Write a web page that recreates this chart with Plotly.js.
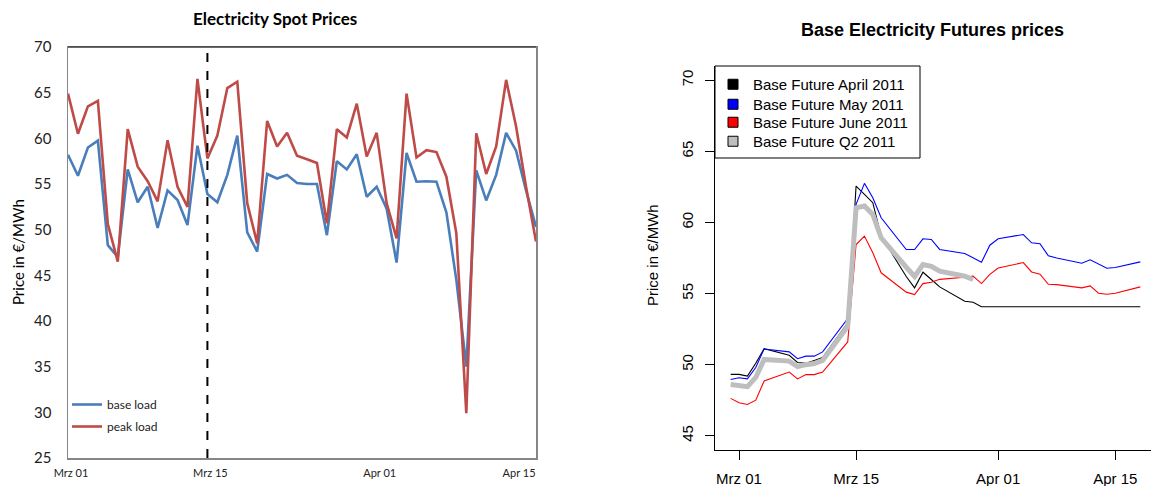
<!DOCTYPE html>
<html>
<head>
<meta charset="utf-8">
<script src="https://cdn.plot.ly/plotly-3.0.1.min.js"></script>
<style>html,body{margin:0;padding:0;background:#fff}#chart{width:1151px;height:486px}</style>
</head>
<body>
<div id="chart"></div>
<script>
// ---------- Left panel: Electricity spot prices (daily) ----------
const spotDates = [
  '2011-03-01','2011-03-02','2011-03-03','2011-03-04','2011-03-05','2011-03-06','2011-03-07','2011-03-08',
  '2011-03-09','2011-03-10','2011-03-11','2011-03-12','2011-03-13','2011-03-14','2011-03-15','2011-03-16',
  '2011-03-17','2011-03-18','2011-03-19','2011-03-20','2011-03-21','2011-03-22','2011-03-23','2011-03-24',
  '2011-03-25','2011-03-26','2011-03-27','2011-03-28','2011-03-29','2011-03-30','2011-03-31','2011-04-01',
  '2011-04-02','2011-04-03','2011-04-04','2011-04-05','2011-04-06','2011-04-07','2011-04-08','2011-04-09',
  '2011-04-10','2011-04-11','2011-04-12','2011-04-13','2011-04-14','2011-04-15','2011-04-16','2011-04-17'
];
const baseLoad = [
  58.2, 55.9, 59.0, 59.75, 48.3, 47.0, 56.6, 53.0,
  54.7, 50.2, 54.3, 53.25, 50.5, 59.2, 53.9, 53.0,
  56.0, 60.3, 49.7, 47.6, 56.1, 55.6, 56.0, 55.1,
  55.0, 55.0, 49.4, 57.5, 56.6, 58.25, 53.6, 54.7,
  52.3, 46.4, 58.4, 55.25, 55.3, 55.25, 51.9, 44.5,
  35.0, 56.5, 53.2, 56.0, 60.6, 58.65, 54.3, 50.3
];
const peakLoad = [
  64.9, 60.5, 63.5, 64.1, 50.6, 46.5, 61.0, 56.9,
  55.3, 53.1, 59.8, 54.7, 52.5, 66.5, 57.8, 60.3,
  65.5, 66.2, 52.9, 48.5, 61.9, 59.1, 60.6, 58.1,
  57.7, 57.3, 50.7, 61.0, 60.1, 63.8, 58.0, 60.6,
  52.9, 49.05, 64.9, 57.9, 58.7, 58.5, 55.8, 49.6,
  29.9, 60.55, 56.1, 59.1, 66.4, 61.3, 54.7, 48.7
];
const spotMarkerDate = '2011-03-15';
const spotTickVals = ['2011-03-01','2011-03-15','2011-04-01','2011-04-15'];
const spotTickText = ['Mrz 01','Mrz 15','Apr 01','Apr 15'];
const spotYTicks = [25,30,35,40,45,50,55,60,65,70];

// ---------- Right panel: Base electricity futures (trading days) ----------
const futDates = [
  '2011-02-28','2011-03-01','2011-03-02','2011-03-03','2011-03-04',
  '2011-03-07','2011-03-08','2011-03-09','2011-03-10','2011-03-11',
  '2011-03-14','2011-03-15','2011-03-16','2011-03-17','2011-03-18',
  '2011-03-21','2011-03-22','2011-03-23','2011-03-24','2011-03-25',
  '2011-03-28','2011-03-29','2011-03-30','2011-03-31','2011-04-01',
  '2011-04-04','2011-04-05','2011-04-06','2011-04-07','2011-04-08',
  '2011-04-11','2011-04-12','2011-04-13','2011-04-14','2011-04-15',
  '2011-04-18'
];
const futApril = [
  49.32, 49.32, 49.2, 50.1, 51.13,
  50.66, 50.15, 50.1, 50.3, 50.5,
  52.95, 62.56, 61.97, 61.39, 59.04,
  56.2, 55.4, 56.5, 55.99, 55.47,
  54.46, 54.39, 54.07, 54.07, 54.07,
  54.07, 54.07, 54.07, 54.07, 54.07,
  54.07, 54.07, 54.07, 54.07, 54.07,
  54.07
];
const futMay = [
  48.96, 49.08, 49.0, 49.8, 51.1,
  50.9, 50.42, 50.6, 50.6, 50.9,
  53.24, 61.27, 62.75, 61.74, 60.33,
  58.1, 58.1, 58.85, 58.8, 58.1,
  57.82, 57.5, 57.2, 58.4, 58.85,
  59.15, 58.57, 58.5, 57.65, 57.5,
  57.13, 57.37, 57.05, 56.78, 56.83,
  57.23
];
const futJune = [
  47.63, 47.32, 47.2, 47.5, 48.85,
  49.48, 49.0, 49.3, 49.3, 49.48,
  51.6, 58.45, 59.04, 57.87, 56.46,
  55.1, 54.93, 55.7, 55.8, 56.0,
  56.15, 56.22, 55.7, 56.35, 56.8,
  57.18, 56.52, 56.36, 55.65, 55.63,
  55.4, 55.54, 55.02, 54.95, 55.02,
  55.47
];
const futQ2 = [
  48.6, 48.55, 48.45, 49.1, 50.37,
  50.25, 49.86, 50.0, 50.08, 50.3,
  52.7, 61.03, 61.15, 60.56, 58.92,
  56.85, 56.2, 57.04, 56.92, 56.57,
  56.22, 55.99, null, null, null,
  null, null, null, null, null,
  null, null, null, null, null,
  null
];
const futNames = ['Base Future April 2011','Base Future May 2011','Base Future June 2011','Base Future Q2 2011'];
const futColors = ['#000000','#0000ff','#ff0000','#bebebe'];
const futTickVals = ['2011-03-01','2011-03-15','2011-04-01','2011-04-15'];
const futTickText = ['Mrz 01','Mrz 15','Apr 01','Apr 15'];
const futYTicks = [45,50,55,60,65,70];

// ---------- layout helpers (pixel -> paper) ----------
const W = 1151, H = 486;
const px = v => v / W;
const py = v => 1 - v / H;

const excelFont = 'Lato, "Open Sans", sans-serif';
const rFont = '"Liberation Sans", Arial, sans-serif';

const traces = [
  {x: spotDates, y: baseLoad, name: 'base load', type: 'scatter', mode: 'lines',
   line: {color: '#4a7ebb', width: 2.6}, xaxis: 'x', yaxis: 'y', legend: 'legend', legendgroup: 'a'},
  {x: spotDates, y: peakLoad, name: 'peak load', type: 'scatter', mode: 'lines',
   line: {color: '#be4b48', width: 2.6}, xaxis: 'x', yaxis: 'y', legend: 'legend', legendgroup: 'b'}
];
const futSeries = [futApril, futMay, futJune, futQ2];
futSeries.forEach((s, i) => {
  traces.push({x: futDates, y: s, name: futNames[i], type: 'scatter', mode: 'lines',
    line: {color: futColors[i], width: i === 3 ? 5 : 1.1}, connectgaps: false,
    xaxis: 'x2', yaxis: 'y2', showlegend: false});
});
// legend keys (filled boxes, R legend style), one legend per row
futSeries.forEach((s, i) => {
  traces.push({x: [null], y: [null], name: futNames[i], type: 'scatter', mode: 'markers',
    marker: {symbol: 'square', size: 10, color: futColors[i], line: {color: '#000', width: 1}},
    xaxis: 'x2', yaxis: 'y2', legend: 'legend' + (i + 2), hoverinfo: 'skip'});
});

const legendRowTops = [68, 88, 106, 125];

const layout = {
  width: W, height: H,
  margin: {l: 0, r: 0, t: 0, b: 0},
  paper_bgcolor: '#fff', plot_bgcolor: '#fff',
  showlegend: true,
  xaxis: {
    type: 'date', domain: [px(68), px(536)], anchor: 'y',
    range: [spotDates[0], spotDates[spotDates.length - 1]],
    showline: true, linecolor: '#868686', linewidth: 1.5, mirror: true,
    showgrid: false, zeroline: false, ticks: '',
    tickvals: spotTickVals, ticktext: spotTickText, ticklabelshift: 3,
    tickfont: {family: excelFont, size: 11, color: '#222'}, ticklabelstandoff: 4
  },
  yaxis: {
    domain: [py(458), py(47)], anchor: 'x', range: [25, 70],
    showline: true, linecolor: '#868686', linewidth: 1.5, mirror: true,
    showgrid: false, zeroline: false, ticks: '',
    tickvals: spotYTicks, ticktext: spotYTicks.map(String),
    tickfont: {family: excelFont, size: 15, color: '#222'}, ticklabelstandoff: 12
  },
  xaxis2: {
    type: 'date', domain: [px(715), 1], anchor: 'y2',
    range: ['2011-02-26 03:00', '2011-04-19 06:40'],
    showline: true, linecolor: '#000', linewidth: 1,
    showgrid: false, zeroline: false, ticks: 'outside', ticklen: 9, tickwidth: 1, tickcolor: '#000',
    tickvals: futTickVals, ticktext: futTickText,
    tickfont: {family: rFont, size: 15, color: '#000'}, ticklabelstandoff: 6
  },
  yaxis2: {
    domain: [py(450), py(66)], anchor: 'x2', range: [44, 71],
    showline: true, linecolor: '#000', linewidth: 1,
    showgrid: false, zeroline: false, ticks: 'outside', ticklen: 9, tickwidth: 1, tickcolor: '#000',
    tickvals: futYTicks, ticktext: futYTicks.map(String), tickangle: -90,
    tickfont: {family: rFont, size: 15, color: '#000'}, ticklabelstandoff: 6
  },
  legend: {
    x: px(67), y: py(390), xanchor: 'left', yanchor: 'top',
    bgcolor: 'rgba(0,0,0,0)', borderwidth: 0, tracegroupgap: 3,
    font: {family: excelFont, size: 12, color: '#222'}
  },
  shapes: [
    {type: 'line', xref: 'x', yref: 'y domain', x0: spotMarkerDate, x1: spotMarkerDate, y0: 0, y1: 1,
     line: {color: '#000', width: 2, dash: 'dash'}},
    {type: 'line', xref: 'x domain', yref: 'y domain', x0: 0, x1: 1, y0: 1, y1: 1,
     line: {color: '#3a3a3a', width: 1.5}},
    // legend frame of the futures panel
    {type: 'rect', xref: 'paper', yref: 'paper', x0: px(715), x1: px(920), y0: py(158), y1: py(66),
     line: {color: '#000', width: 1}, fillcolor: '#fff', layer: 'above'}
  ],
  annotations: [
    {text: '<b>Electricity Spot Prices</b>', xref: 'paper', yref: 'paper', x: px(275), y: py(19),
     xanchor: 'center', yanchor: 'middle', showarrow: false,
     font: {family: excelFont, size: 17, color: '#000'}},
    {text: 'Price in €/MWh', xref: 'paper', yref: 'paper', x: px(18), y: py(252),
     xanchor: 'center', yanchor: 'middle', showarrow: false, textangle: -90,
     font: {family: excelFont, size: 15, color: '#000'}},
    {text: '<b>Base Electricity Futures prices</b>', xref: 'paper', yref: 'paper', x: px(932), y: py(30),
     xanchor: 'center', yanchor: 'middle', showarrow: false,
     font: {family: rFont, size: 18, color: '#000'}},
    {text: 'Price in €/MWh', xref: 'paper', yref: 'paper', x: px(652), y: py(255),
     xanchor: 'center', yanchor: 'middle', showarrow: false, textangle: -90,
     font: {family: rFont, size: 15, color: '#000'}}
  ]
};
legendRowTops.forEach((top, i) => {
  layout['legend' + (i + 2)] = {
    x: px(713), y: py(top), xanchor: 'left', yanchor: 'top',
    bgcolor: 'rgba(0,0,0,0)', borderwidth: 0,
    font: {family: rFont, size: 15, color: '#000'}
  };
});

Plotly.newPlot('chart', traces, layout, {displayModeBar: false, staticPlot: true});
</script>
</body>
</html>
